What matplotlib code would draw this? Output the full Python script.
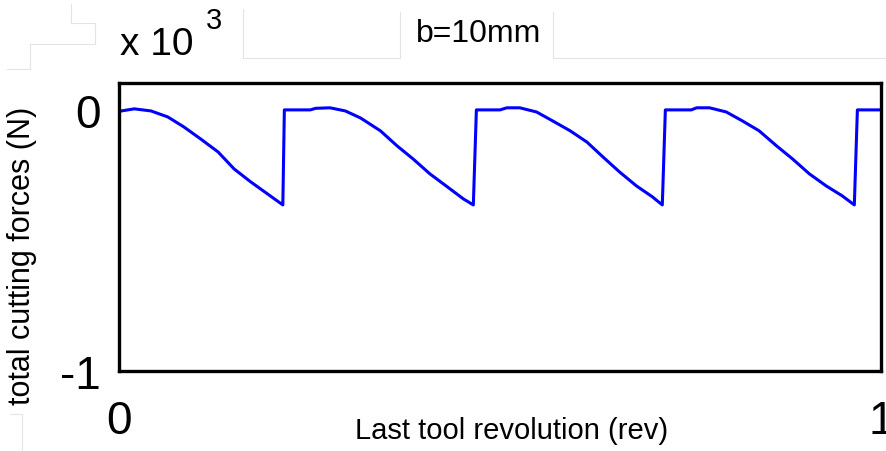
import matplotlib
matplotlib.use("Agg")
import matplotlib.pyplot as plt
from matplotlib.lines import Line2D

# total cutting force over the last tool revolution (units of 10^3 N)
rev = [0.000, 0.003, 0.020, 0.042, 0.064, 0.085, 0.107, 0.130, 0.151, 0.173, 0.195, 0.215,
       0.217, 0.238, 0.251, 0.258, 0.277, 0.297, 0.317, 0.343, 0.365, 0.386, 0.408, 0.431, 0.452, 0.465,
       0.469, 0.500, 0.509, 0.526, 0.548, 0.569, 0.592, 0.614, 0.635, 0.657, 0.679, 0.700, 0.713,
       0.717, 0.751, 0.758, 0.775, 0.797, 0.818, 0.840, 0.863, 0.884, 0.906, 0.928, 0.949, 0.965,
       0.969, 1.000]
force = [-0.008, -0.004, 0.004, -0.004, -0.027, -0.065, -0.111, -0.161, -0.226, -0.276, -0.322, -0.364,
         0.000, 0.000, 0.000, 0.006, 0.008, -0.004, -0.031, -0.080, -0.138, -0.188, -0.245, -0.295, -0.341, -0.364,
         0.000, 0.000, 0.008, 0.008, -0.008, -0.042, -0.080, -0.123, -0.180, -0.238, -0.291, -0.333, -0.364,
         0.000, 0.000, 0.008, 0.008, -0.008, -0.042, -0.080, -0.138, -0.188, -0.245, -0.291, -0.329, -0.364,
         0.000, 0.000]

xticks = [0, 1]
yticks = [-1, 0]

sans = ['Liberation Sans', 'DejaVu Sans']

W, H = 886, 452
fig = plt.figure(figsize=(W / 100, H / 100), dpi=100)
ax = fig.add_axes([119 / W, 1 - 372 / H, 762 / W, 288 / H])

ax.plot(rev, force, color='#0000ff', linewidth=2.2)

ax.set_xlim(0, 1)
ax.set_ylim(-1, 0.103)
ax.set_xticks(xticks)
ax.set_yticks(yticks)
ax.set_xticklabels([str(t) for t in xticks], family=sans, fontsize=33)
ax.set_yticklabels([str(t) for t in yticks], family=sans, fontsize=33)
ax.tick_params(axis='x', length=0, pad=20)
ax.tick_params(axis='y', length=0, pad=13)
for s in ax.spines.values():
    s.set_linewidth(2.4)
    s.set_color('black')

fig.text(512 / W, 1 - 431 / H, 'Last tool revolution (rev)', family=sans,
         fontsize=21, ha='center', va='center')
fig.text(22 / W, 1 - 256 / H, 'total cutting forces (N)', family=sans,
         fontsize=22, rotation=90, ha='center', va='center')
fig.text(120 / W, 1 - 45 / H, 'x 10', family=sans, fontsize=28, ha='left', va='center')
fig.text(206 / W, 1 - 21 / H, '3', family=sans, fontsize=21, ha='left', va='center')
fig.text(479 / W, 1 - 34 / H, 'b=10mm', family=sans, fontsize=23, ha='center', va='center')

# faint window-edge lines left over from the screenshot
faint = [((71, 5), (71, 24)), ((71, 24), (95, 24)), ((95, 24), (95, 45)), ((30, 45), (95, 45)),
         ((30, 45), (30, 70)), ((7, 70), (30, 70)), ((243, 10), (243, 59)), ((243, 59), (400, 59)),
         ((400, 13), (400, 59)), ((553, 13), (553, 59)), ((553, 59), (886, 59)),
         ((10, 415), (22, 415)), ((22, 415), (22, 452))]
for (x0, y0), (x1, y1) in faint:
    fig.add_artist(Line2D([x0 / W, x1 / W], [1 - y0 / H, 1 - y1 / H], color='#e4e4e4',
                          linewidth=0.8, transform=fig.transFigure))

fig.savefig('out.png', dpi=100)
